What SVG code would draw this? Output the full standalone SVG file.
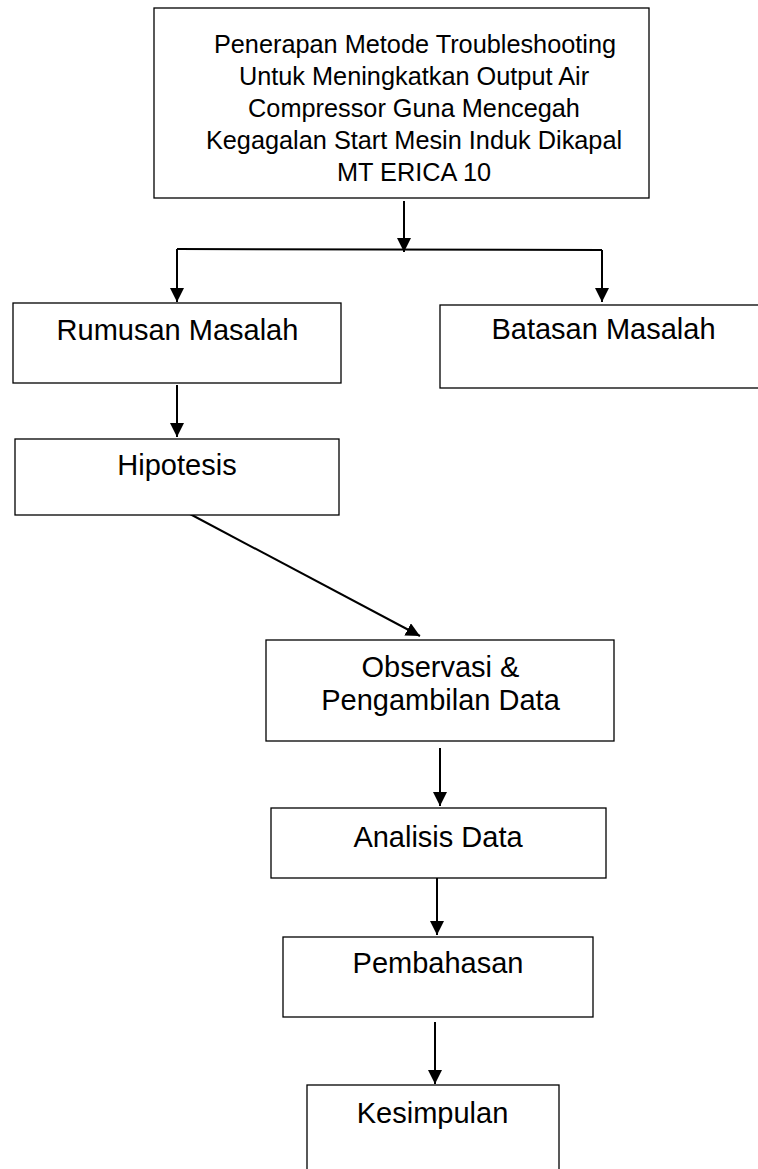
<svg xmlns="http://www.w3.org/2000/svg" width="758" height="1169" viewBox="0 0 758 1169">
<style>
.box{fill:#fff;stroke:#000;stroke-width:1.3}
.t{font-family:"Liberation Sans",Arial,sans-serif;font-size:25.3px;fill:#000;text-anchor:middle}
.b{font-family:"Liberation Sans",Arial,sans-serif;font-size:29px;fill:#000;text-anchor:middle}
.c{fill:none;stroke:#000;stroke-width:2}
</style>
<defs>
<marker id="ah" markerUnits="userSpaceOnUse" markerWidth="15" markerHeight="15" refX="14" refY="7" orient="auto">
<path d="M0,0 L14,7 L0,14 z" fill="#000"/>
</marker>
</defs>
<rect width="758" height="1169" fill="#fff"/>
<g id="connectors">
<line class="c" x1="404" y1="201" x2="404" y2="252" marker-end="url(#ah)"/>
<line class="c" x1="177" y1="249" x2="602" y2="250"/>
<line class="c" x1="177" y1="249" x2="177" y2="302" marker-end="url(#ah)"/>
<line class="c" x1="602" y1="250" x2="602" y2="302" marker-end="url(#ah)"/>
<line class="c" x1="177" y1="385" x2="177" y2="437" marker-end="url(#ah)"/>
<line class="c" x1="190" y1="514" x2="420" y2="636" marker-end="url(#ah)"/>
<line class="c" x1="440" y1="748" x2="440" y2="806" marker-end="url(#ah)"/>
<line class="c" x1="437" y1="876" x2="437" y2="935" marker-end="url(#ah)"/>
<line class="c" x1="435" y1="1022" x2="435" y2="1084" marker-end="url(#ah)"/>
</g>
<g id="judul">
<rect class="box" x="154" y="8" width="495" height="190"/>
<text class="t" x="415" y="53">Penerapan Metode Troubleshooting</text>
<text class="t" x="414" y="85">Untuk Meningkatkan Output Air</text>
<text class="t" x="414" y="117">Compressor Guna Mencegah</text>
<text class="t" x="414" y="149">Kegagalan Start Mesin Induk Dikapal</text>
<text class="t" x="414" y="181">MT ERICA 10</text>
</g>
<g id="rumusan">
<rect class="box" x="13" y="303" width="328" height="80"/>
<text class="b" x="177.5" y="340">Rumusan Masalah</text>
</g>
<g id="batasan">
<rect class="box" x="440" y="305" width="330" height="83"/>
<text class="b" x="603.5" y="339">Batasan Masalah</text>
</g>
<g id="hipotesis">
<rect class="box" x="15" y="439" width="324" height="76"/>
<text class="b" x="177" y="475">Hipotesis</text>
</g>
<g id="observasi">
<rect class="box" x="266" y="640" width="348" height="101"/>
<text class="b" x="440.5" y="677">Observasi &amp;</text>
<text class="b" x="440.5" y="710">Pengambilan Data</text>
</g>
<g id="analisis">
<rect class="box" x="271" y="808" width="335" height="70"/>
<text class="b" x="438" y="847">Analisis Data</text>
</g>
<g id="pembahasan">
<rect class="box" x="283" y="937" width="310" height="80"/>
<text class="b" x="438" y="973">Pembahasan</text>
</g>
<g id="kesimpulan">
<rect class="box" x="307" y="1085" width="252" height="110"/>
<text class="b" x="432.5" y="1123">Kesimpulan</text>
</g>
</svg>
